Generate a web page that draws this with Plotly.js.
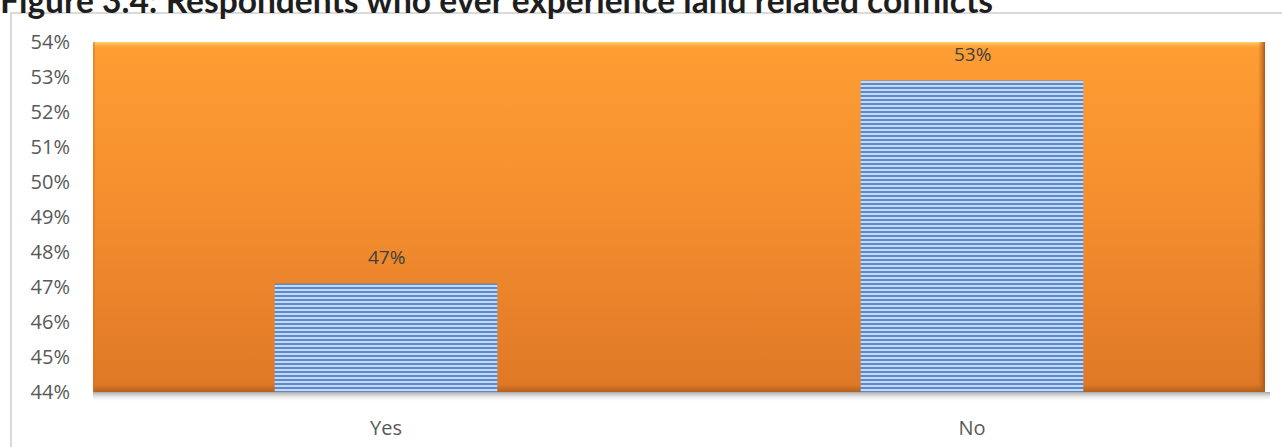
<!DOCTYPE html>
<html>
<head>
<meta charset="utf-8">
<script src="https://cdn.plot.ly/plotly-3.0.1.min.js"></script>
<style>
  html, body { margin: 0; padding: 0; background: #ffffff; overflow: hidden; }
  #frame { position: absolute; left: 10px; top: 12px; width: 1400px; height: 600px;
           border: 2px solid #DADADA; box-sizing: border-box; }
  #chart { position: absolute; left: 0; top: 0; width: 1282px; height: 447px; }
</style>
</head>
<body>
<div id="frame"></div>
<div id="chart"></div>
<script>
const titleText = "Figure 3.4: Respondents who ever experience land related conflicts";
const categories = ["Yes", "No"];
const values = [47.1, 52.9];
const valueLabels = ["47%", "53%"];
const yTickValues = [44, 45, 46, 47, 48, 49, 50, 51, 52, 53, 54];
const axisBase = 44;

const bgSvg = '<svg xmlns="http://www.w3.org/2000/svg" width="1172" height="350" viewBox="0 0 1172 350" preserveAspectRatio="none">' +
  '<defs><linearGradient id="g" x1="0" y1="0" x2="0" y2="1">' +
  '<stop offset="0" stop-color="#FF9E33"/><stop offset="0.5" stop-color="#F38D2E"/><stop offset="1" stop-color="#DF7826"/></linearGradient>' +
  '<linearGradient id="t" x1="0" y1="0" x2="0" y2="1"><stop offset="0" stop-color="#FFD56E"/><stop offset="1" stop-color="#FFA035" stop-opacity="0"/></linearGradient>' +
  '<linearGradient id="r" x1="0" y1="0" x2="1" y2="0"><stop offset="0" stop-color="#C06A22" stop-opacity="0"/><stop offset="1" stop-color="#A65A1C"/></linearGradient>' +
  '<linearGradient id="b" x1="0" y1="0" x2="0" y2="1"><stop offset="0" stop-color="#B8621F" stop-opacity="0"/><stop offset="1" stop-color="#B0601E"/></linearGradient>' +
  '</defs>' +
  '<rect x="0" y="0" width="1172" height="350" fill="url(#g)"/>' +
  '<rect x="0" y="0" width="1172" height="7" fill="url(#t)"/>' +
  '<rect x="1165" y="0" width="7" height="350" fill="url(#r)"/>' +
  '<rect x="0" y="342" width="1172" height="8" fill="url(#b)"/>' +
  '<rect x="0" y="0" width="2" height="350" fill="#D07424" opacity="0.5"/>' +
  '</svg>';

const floorSvg = '<svg xmlns="http://www.w3.org/2000/svg" width="100" height="10" viewBox="0 0 100 10" preserveAspectRatio="none">' +
  '<defs><linearGradient id="f" x1="0" y1="0" x2="0" y2="1"><stop offset="0" stop-color="#A8A8A8"/><stop offset="1" stop-color="#FFFFFF" stop-opacity="0"/></linearGradient></defs>' +
  '<rect x="0" y="0" width="100" height="10" fill="url(#f)"/></svg>';

const H = 350;
const trace = {
  type: "bar",
  x: categories,
  y: values.map(v => v - axisBase),
  width: 0.38,
  marker: {
    color: "#BCD1EE",
    line: { width: 0 },
    pattern: { shape: "-", fgcolor: "#5A8ACD", bgcolor: "#C6D9F2", size: 4, solidity: 0.5, fillmode: "replace" }
  },
  hoverinfo: "skip"
};

const annotations = categories.map((c, i) => ({
  x: c, y: values[i] - axisBase, xref: "x", yref: "y",
  text: valueLabels[i], showarrow: false, yanchor: "bottom", yshift: 12,
  font: { family: "Open Sans, sans-serif", size: 19, color: "#404040" }
}));
annotations.push({
  xref: "paper", yref: "paper", x: -93/1172, y: 1 + (42 - 22) / H,
  xanchor: "left", yanchor: "bottom", xshift: -2,
  text: "<b>" + titleText + "</b>", showarrow: false,
  font: { family: "Lato, sans-serif", size: 33.5, color: "#1E1E1E" }
});

const layout = {
  width: 1282, height: 447,
  margin: { l: 93, r: 17, t: 42, b: 55 },
  paper_bgcolor: "rgba(0,0,0,0)",
  plot_bgcolor: "rgba(0,0,0,0)",
  showlegend: false,
  xaxis: {
    type: "category",
    showgrid: false, zeroline: false, showline: false, ticks: "",
    ticklabelstandoff: 22,
    tickfont: { family: "Open Sans, sans-serif", size: 20, color: "#595959" }
  },
  yaxis: {
    range: [0, 10],
    tickvals: yTickValues.map(v => v - axisBase),
    ticktext: yTickValues.map(v => v + "%"),
    showgrid: false, zeroline: false, showline: false, ticks: "",
    ticklabelstandoff: 22,
    tickfont: { family: "Open Sans, sans-serif", size: 20, color: "#595959" }
  },
  images: [
    { source: "data:image/svg+xml;utf8," + encodeURIComponent(bgSvg), xref: "paper", yref: "paper",
      x: 0, y: 1, sizex: 1, sizey: 1, sizing: "stretch", xanchor: "left", yanchor: "top", layer: "below" },
    { source: "data:image/svg+xml;utf8," + encodeURIComponent(floorSvg), xref: "paper", yref: "paper",
      x: 0, y: 0, sizex: 1 + 5/1172, sizey: 10 / H, sizing: "stretch", xanchor: "left", yanchor: "top", layer: "below" }
  ],
  annotations: annotations
};

Plotly.newPlot("chart", [trace], layout, { displayModeBar: false, staticPlot: true });
</script>
</body>
</html>
